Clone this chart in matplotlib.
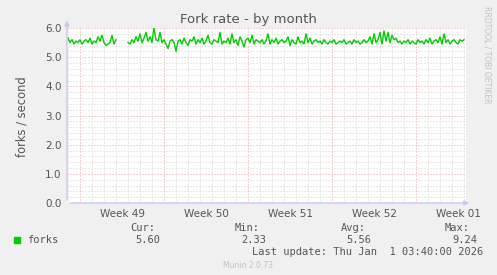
import numpy as np
import matplotlib.pyplot as plt

# fork rate samples every 4 hours, days counted from Mon 1 Dec 2025 (start of week 49)
start_day = -1.0
step = 1.0 / 6
forks = [5.65, 5.5, 5.6, 5.45, 5.55, 5.5, 5.6, 5.45, 5.55, 5.6, 5.5, 5.65, 5.45,
         5.55, 5.5, 5.7, 5.55, 5.75, 5.5, 5.4, 5.45, 5.5, 5.75, 5.45, 5.6,
         np.nan, np.nan, np.nan, np.nan, np.nan,
         5.5, 5.45, 5.6, 5.5, 5.7, 5.55, 5.8, 5.5, 5.65, 5.85, 5.55, 5.7,
         5.5, 6.0, 5.6, 5.55, 5.85, 5.5, 5.6, 5.45, 5.3, 5.55, 5.6, 5.5,
         5.2, 5.55, 5.6, 5.45, 5.65, 5.5, 5.4, 5.6, 5.55, 5.7, 5.45, 5.6,
         5.5, 5.65, 5.45, 5.55, 5.75, 5.5, 5.45, 5.6, 5.55, 5.5, 5.85, 5.45,
         5.55, 5.5, 5.65, 5.45, 5.8, 5.5, 5.6, 5.4, 5.7, 5.55, 5.35, 5.6,
         5.65, 5.5, 5.75, 5.45, 5.6, 5.55, 5.5, 5.6, 5.45, 5.55, 5.8, 5.45,
         5.6, 5.5, 5.65, 5.45, 5.55, 5.6, 5.5, 5.55, 5.7, 5.4, 5.6, 5.5,
         5.45, 5.7, 5.5, 5.55, 5.45, 5.8, 5.5, 5.65, 5.45, 5.55, 5.6, 5.5,
         5.55, 5.45, 5.6, 5.5, 5.45, 5.55, 5.5, 5.6, 5.45, 5.5, 5.55, 5.5,
         5.6, 5.45, 5.5, 5.55, 5.45, 5.6, 5.5, 5.55, 5.45, 5.5, 5.6, 5.5,
         5.55, 5.7, 5.45, 5.8, 5.5, 5.6, 5.85, 5.45, 5.9, 5.55, 5.85, 5.5,
         5.75, 5.6, 5.65, 5.5, 5.55, 5.45, 5.55, 5.5, 5.6, 5.45, 5.55, 5.5,
         5.45, 5.6, 5.5, 5.55, 5.45, 5.6, 5.5, 5.65, 5.45, 5.55, 5.6, 5.5,
         5.7, 5.45, 5.8, 5.5, 5.6, 5.45, 5.55, 5.6, 5.5, 5.45, 5.6, 5.55,
         5.6]
days = start_day + step * np.arange(len(forks))

week_labels = ["Week 49", "Week 50", "Week 51", "Week 52", "Week 01"]
yticks = [0.0, 1.0, 2.0, 3.0, 4.0, 5.0, 6.0]
stats_names = ["Cur:", "Min:", "Avg:", "Max:"]
stats_vals = ["5.60", "2.33", "5.56", "9.24"]

bg = "#F0F0F0"
txt = "#555555"
axcol = "#C8C8F0"
minor_c = "#D2D2D2"
major_c = "#EAA4A4"

fig = plt.figure(figsize=(4.97, 2.75), dpi=100, facecolor=bg)
W, H = 497, 275
x0, x1, y0, y1 = 67, 466, 28, 203
ax = fig.add_axes([x0 / W, 1 - y1 / H, (x1 - x0) / W, (y1 - y0) / H])
ax.set_facecolor("white")

xmin = (x0 - 80) / 12.0
xmax = (x1 - 80) / 12.0
ax.set_xlim(xmin, xmax)
ax.set_ylim(0, 6.0)

# grid: dotted, red on majors
for v in np.arange(0.2, 6.01, 0.2):
    major = abs(v - round(v)) < 1e-6
    ax.axhline(v, color=major_c if major else minor_c, lw=0.72,
               ls=(0, (1, 2)), zorder=1)
for d in range(-1, 33):
    major = d % 7 == 0
    ax.axvline(d, color=major_c if major else minor_c, lw=0.72,
               ls=(0, (1, 2)), zorder=1)

ax.plot(days, forks, color="#00CC00", lw=1.0, zorder=3)

for s in ax.spines.values():
    s.set_visible(False)
ax.set_yticks(yticks)
ax.set_yticklabels(["%.1f" % v for v in yticks])
ax.set_xticks([3.5 + 7 * i for i in range(len(week_labels))])
ax.set_xticklabels(week_labels)
ax.tick_params(axis="both", length=0, labelsize=7.5, colors=txt, pad=4)

# axis lines with arrows
ax.annotate("", xy=(xmin, 6.35), xytext=(xmin, 0), xycoords="data",
            arrowprops=dict(arrowstyle="-|>", color=axcol, lw=1, mutation_scale=7),
            annotation_clip=False)
ax.annotate("", xy=(xmax + 0.5, 0), xytext=(xmin, 0), xycoords="data",
            arrowprops=dict(arrowstyle="-|>", color=axcol, lw=1, mutation_scale=7),
            annotation_clip=False)

fig.text(248 / W, 1 - 19 / H, "Fork rate - by month", ha="center", va="center",
         fontsize=9.5, color=txt)
fig.text(22 / W, 1 - 117 / H, "forks / second", rotation=90, ha="center",
         va="center", fontsize=8.3, color=txt)
fig.text(487 / W, 1 - 6 / H, "RRDTOOL / TOBI OETIKER", rotation=270, ha="center",
         va="top", fontsize=5.5, color="#C0C0C0")

mono = "DejaVu Sans Mono"
fig.patches.append(plt.Rectangle((14 / W, 1 - 243 / H), 6 / W, 6 / H,
                                 transform=fig.transFigure, color="#00CC00"))
fig.text(27 / W, 1 - 240 / H, "forks", ha="left", va="center", fontsize=7.5,
         family=mono, color=txt)
name_x = [155, 260, 366, 470]
val_x = [160, 266, 371, 477]
for nx, vx, n, v in zip(name_x, val_x, stats_names, stats_vals):
    fig.text(nx / W, 1 - 228 / H, n, ha="right", va="center", fontsize=7.5,
             family=mono, color=txt)
    fig.text(vx / W, 1 - 240 / H, v, ha="right", va="center", fontsize=7.5,
             family=mono, color=txt)
fig.text(483 / W, 1 - 252 / H, "Last update: Thu Jan  1 03:40:00 2026", ha="right",
         va="center", fontsize=7.5, family=mono, color=txt)
fig.text(248 / W, 1 - 265 / H, "Munin 2.0.73", ha="center", va="center",
         fontsize=5.5, color="#C0C0C0")

fig.savefig("out.png", dpi=100, facecolor=bg)
